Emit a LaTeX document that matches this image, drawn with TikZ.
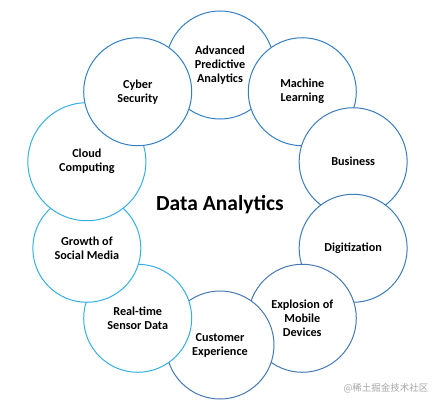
\documentclass[tikz,border=0pt]{standalone}
\usepackage{fontspec}
\setmainfont{Carlito}
\newfontfamily\cjkfont{Noto Sans CJK SC}
\definecolor{ringdark}{RGB}{52,128,196}
\definecolor{ringmid}{RGB}{60,124,188}
\definecolor{ringlow}{RGB}{70,120,178}
\definecolor{ringcyan}{RGB}{52,176,226}

\begin{document}
\begin{tikzpicture}[x=1pt,y=1pt,every node/.style={font=\bfseries\fontsize{12.2}{14}\selectfont,align=center},
  bubble/.style={circle,draw,line width=1pt,fill=white,minimum size=108pt,inner sep=0pt}]
\useasboundingbox (-220,205) rectangle (219,-200);
\node[bubble,draw=ringdark] (adv) at (90:140) {Advanced\\Predictive\\Analytics};
\node[bubble,draw=ringdark] (ml) at (54:140) {Machine\\Learning};
\node[bubble,draw=ringmid] (biz) at (18:140) {Business};
\node[bubble,draw=ringmid] (dig) at (-18:140) {Digitization};
\node[bubble,draw=ringlow] (mob) at (-54:140) {Explosion of\\Mobile\\Devices};
\node[bubble,draw=ringlow] (cx) at (-90:140) {Customer\\Experience};
\node[bubble,draw=ringcyan] (rt) at (-126:140) {Real-time\\Sensor Data};
\node[bubble,draw=ringcyan] (soc) at (-162:140) {Growth of\\Social Media};
\node[bubble,draw=ringcyan,minimum size=118pt] (cloud) at (162:140) {Cloud\\Computing};
\node[bubble,draw=ringdark] (cyb) at (126:140) {Cyber\\Security};
\node[font=\bfseries\fontsize{21.5}{25}\selectfont] (title) at (0,0) {Data Analytics};
\node[font=\cjkfont\fontsize{9.5}{11}\selectfont,text=black!35] (mark) at (166,-183) {@稀土掘金技术社区};
\end{tikzpicture}
\end{document}
